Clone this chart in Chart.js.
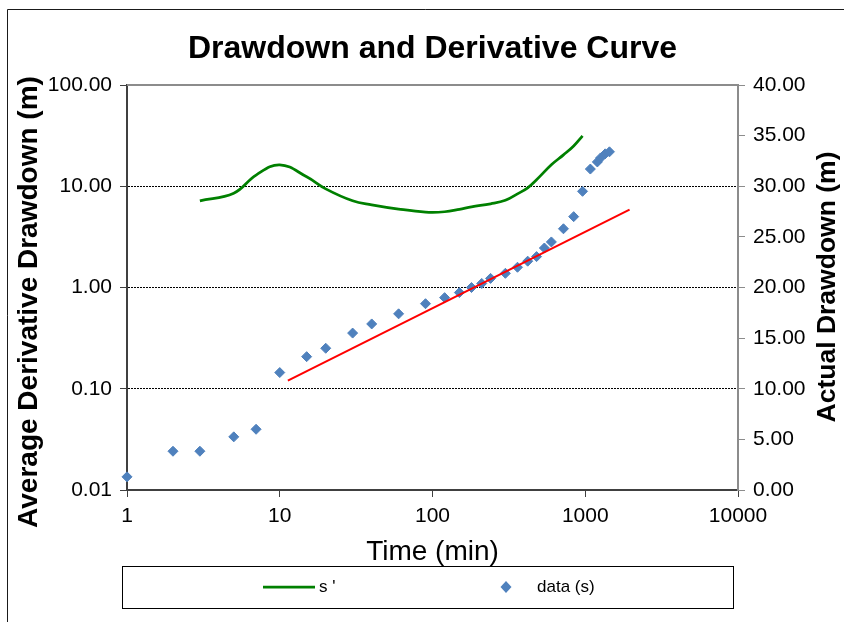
<!DOCTYPE html>
<html>
<head>
<meta charset="utf-8">
<script src="https://cdn.jsdelivr.net/npm/chart.js@4.4.0/dist/chart.umd.min.js"></script>
<style>
  html, body { margin: 0; padding: 0; background: #fff; }
  #wrap { width: 844px; height: 622px; position: relative; }
</style>
</head>
<body>
<div id="wrap"><canvas id="c" width="844" height="622"></canvas></div>
<script>
// Pumping test: time since start of pumping (min) and measured drawdown (m)
const timeMin = [1, 2, 3, 5, 7, 10, 15, 20, 30, 40, 60, 90, 120, 150, 180, 210, 240, 300, 360, 420, 480, 540, 600, 720, 840, 960, 1080, 1200, 1260, 1350, 1440];
const drawdown = [1.30, 3.83, 3.83, 5.25, 6.00, 11.6, 13.17, 14.0, 15.5, 16.4, 17.4, 18.4, 19.0, 19.5, 20.0, 20.4, 20.9, 21.4, 22.0, 22.6, 23.05, 23.9, 24.5, 25.8, 27.0, 29.5, 31.7, 32.4, 32.8, 33.2, 33.4];

// Average derivative of drawdown s' (m)
const derivTime = [3, 5, 7, 10, 15, 20, 30, 40, 60, 90, 120, 150, 180, 240, 300, 360, 420, 480, 600, 720, 840, 960];
const derivative = [7.18, 8.55, 12.9, 16.3, 12.4, 9.42, 7.18, 6.56, 5.95, 5.56, 5.6, 5.92, 6.27, 6.71, 7.26, 8.41, 9.64, 11.6, 16.3, 20.4, 25.0, 31.4];

// Straight-line fit through the middle-time drawdown
const fitTime = [11.3, 1950];
const fitDrawdown = [10.8, 27.7];

// Axis ticks
const timeTicks = [1, 10, 100, 1000, 10000];
const derivTicks = [0.01, 0.1, 1, 10, 100];
const gridAt = [0.1, 1, 10];

const chartTitle = 'Drawdown and Derivative Curve';
const xTitle = 'Time (min)';
const yTitle = 'Average Derivative Drawdown (m)';
const y2Title = 'Actual Drawdown (m)';
const derivLabel = "s '";
const dataLabel = 'data (s)';

const FONT = '"Liberation Sans", Arial, sans-serif';

function pairs(xs, ys) { return xs.map((x, i) => ({ x: x, y: ys[i] })); }

function drawText(ctx, text, x, y, opt) {
  ctx.save();
  ctx.translate(x, y);
  if (opt.rotate) ctx.rotate(opt.rotate);
  ctx.font = opt.font;
  ctx.fillStyle = opt.color || '#000';
  ctx.textAlign = opt.align || 'center';
  ctx.textBaseline = opt.baseline || 'middle';
  ctx.fillText(text, 0, 0);
  ctx.restore();
}

const decor = {
  id: 'decor',
  beforeDraw(chart) {
    const ctx = chart.ctx;
    ctx.save();
    ctx.fillStyle = '#fff';
    ctx.fillRect(0, 0, chart.width, chart.height);
    // outer chart frame (top and left edges)
    ctx.strokeStyle = '#1a1a1a';
    ctx.lineWidth = 1;
    ctx.beginPath();
    ctx.moveTo(7.5, chart.height);
    ctx.lineTo(7.5, 9.5);
    ctx.lineTo(chart.width, 9.5);
    ctx.stroke();
    ctx.restore();
  },
  beforeDatasetsDraw(chart) {
    // plot-area top edge
    const { ctx, chartArea: a } = chart;
    ctx.save();
    ctx.strokeStyle = '#8c8c8c';
    ctx.lineWidth = 2;
    ctx.beginPath();
    ctx.moveTo(a.left, a.top);
    ctx.lineTo(a.right, a.top);
    ctx.stroke();
    ctx.restore();
  },
  afterDraw(chart) {
    const ctx = chart.ctx;
    const a = chart.chartArea;
    const cx = (a.left + a.right) / 2;
    drawText(ctx, chartTitle, cx, 49, { font: 'bold 32px ' + FONT });
    drawText(ctx, xTitle, cx, 552, { font: '28px ' + FONT });
    drawText(ctx, yTitle, 29, 302, { font: 'bold 28px ' + FONT, rotate: -Math.PI / 2 });
    drawText(ctx, y2Title, 828, 287, { font: 'bold 26.5px ' + FONT, rotate: -Math.PI / 2 });

    // legend
    const ds = chart.data.datasets;
    ctx.save();
    ctx.strokeStyle = '#000';
    ctx.lineWidth = 1;
    ctx.strokeRect(122.5, 566.5, 611, 42);
    ctx.strokeStyle = ds[0].borderColor;
    ctx.lineWidth = ds[0].borderWidth;
    ctx.beginPath();
    ctx.moveTo(263, 587);
    ctx.lineTo(315, 587);
    ctx.stroke();
    ctx.restore();
    drawText(ctx, derivLabel, 319, 587, { font: '17px ' + FONT, align: 'left' });
    ctx.save();
    ctx.fillStyle = ds[1].backgroundColor;
    ctx.beginPath();
    ctx.moveTo(506, 581); ctx.lineTo(511.5, 587); ctx.lineTo(506, 593); ctx.lineTo(500.5, 587);
    ctx.closePath();
    ctx.fill();
    ctx.restore();
    drawText(ctx, dataLabel, 537, 587, { font: '17px ' + FONT, align: 'left' });
  }
};

const tickFont = { family: FONT, size: 21 };

new Chart(document.getElementById('c'), {
  type: 'scatter',
  data: {
    datasets: [
      {
        label: derivLabel,
        data: pairs(derivTime, derivative),
        yAxisID: 'y',
        showLine: true,
        borderColor: '#008000',
        backgroundColor: '#008000',
        borderWidth: 2.75,
        tension: 0.4,
        pointRadius: 0,
        order: 3
      },
      {
        label: dataLabel,
        data: pairs(timeMin, drawdown),
        yAxisID: 'y2',
        showLine: false,
        pointStyle: 'rectRot',
        pointRadius: 5,
        pointBorderWidth: 1,
        backgroundColor: '#4f81bd',
        borderColor: '#4f81bd',
        clip: false,
        order: 2
      },
      {
        label: 'fit',
        data: pairs(fitTime, fitDrawdown),
        yAxisID: 'y2',
        showLine: true,
        borderColor: '#ff0000',
        backgroundColor: '#ff0000',
        borderWidth: 2,
        pointRadius: 0,
        order: 1
      }
    ]
  },
  options: {
    responsive: false,
    animation: false,
    devicePixelRatio: 1,
    layout: { padding: { top: 85, left: 0, right: 0, bottom: 0 } },
    plugins: { legend: { display: false }, title: { display: false }, tooltip: { enabled: false } },
    scales: {
      x: {
        type: 'logarithmic',
        position: 'bottom',
        min: 1,
        max: 10000,
        afterBuildTicks: s => { s.ticks = timeTicks.map(v => ({ value: v, major: true })); },
        afterFit: s => { s.height = 132; },
        ticks: { font: tickFont, color: '#000', padding: 7, maxRotation: 0, autoSkip: false,
                 callback: v => String(v) },
        grid: { drawOnChartArea: false, drawTicks: true, tickLength: 7, tickColor: '#404040', color: '#404040' },
        border: { display: true, color: '#404040', width: 2 }
      },
      y: {
        type: 'logarithmic',
        position: 'left',
        min: 0.01,
        max: 100,
        afterBuildTicks: s => { s.ticks = derivTicks.map(v => ({ value: v, major: true })); },
        afterFit: s => { s.width = 127; },
        ticks: { font: tickFont, color: '#000', padding: 8, autoSkip: false,
                 callback: v => Number(v).toFixed(2) },
        grid: {
          drawOnChartArea: true,
          drawTicks: true,
          tickLength: 7,
          tickColor: '#404040',
          lineWidth: 1,
          color: c => (c.tick && gridAt.includes(c.tick.value)) ? '#000' : 'rgba(0,0,0,0)'
        },
        border: { display: true, color: '#404040', width: 2, dash: [2, 1] }
      },
      y2: {
        type: 'linear',
        position: 'right',
        min: 0,
        max: 40,
        afterFit: s => { s.width = 106; },
        ticks: { font: tickFont, color: '#000', padding: 8, stepSize: 5,
                 callback: v => Number(v).toFixed(2) },
        grid: { drawOnChartArea: false, drawTicks: true, tickLength: 7, tickColor: '#8c8c8c', color: '#8c8c8c' },
        border: { display: true, color: '#8c8c8c', width: 2 }
      }
    }
  },
  plugins: [decor]
});
</script>
</body>
</html>
